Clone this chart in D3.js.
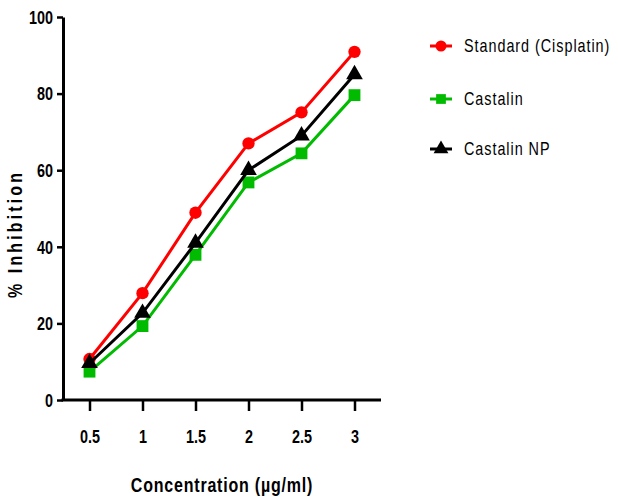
<!DOCTYPE html>
<html>
<head>
<meta charset="utf-8">
<script src="https://cdn.jsdelivr.net/npm/d3@7"></script>
<style>
  body { margin: 0; background: #fff; }
  text { font-family: "Liberation Sans", Arial, sans-serif; }
</style>
</head>
<body>
<div id="chart"></div>
<script>
let w = 618
let h = 500
let narrow = 0.8

let concentrations = [0.5, 1, 1.5, 2, 2.5, 3]
let standard = [10.7, 27.9, 48.9, 67.0, 75.1, 90.9]
let castalin = [7.4, 19.3, 37.9, 56.8, 64.4, 79.6]
let castalinNP = [9.6, 22.7, 41.0, 60.0, 69.0, 85.0]
let yTicks = [0, 20, 40, 60, 80, 100]
let xTicks = [0.5, 1, 1.5, 2, 2.5, 3]

let seriesNames = ["Standard (Cisplatin)", "Castalin", "Castalin NP"]
let seriesValues = [standard, castalin, castalinNP]
let COLORS = ["#ff0000", "#00bb00", "#000000"]
let SHAPES = [d3.symbolCircle, d3.symbolSquare, d3.symbolTriangle]
let SIZES = [120, 140, 120]

let svg = d3.select("#chart")
  .append("svg")
  .attr("width", w)
  .attr("height", h)

let x = d3.scaleLinear()
  .domain([0.25, 3.25])
  .range([63, 381])

let y = d3.scaleLinear()
  .domain([0, 100])
  .range([400, 17])

// Axes
let xAxis = d3.axisBottom(x).tickValues(xTicks).tickFormat(d3.format("")).tickSize(11).tickSizeOuter(0)
let yAxis = d3.axisLeft(y).tickValues(yTicks).tickSize(6).tickSizeOuter(0)

let gx = svg.append("g")
  .attr("transform", "translate(0," + y(0) + ")")
  .call(xAxis)

let gy = svg.append("g")
  .attr("transform", "translate(" + x(0.25) + ",0)")
  .call(yAxis)

gx.select(".domain").attr("stroke-width", 3).attr("d", "M" + (x(0.25) - 1.5) + ",0H" + x(3.25))
gy.select(".domain").attr("stroke-width", 3)
svg.selectAll(".tick line").attr("stroke-width", 2.5)

gx.selectAll(".tick text")
  .attr("dy", "0")
  .attr("y", null)
  .attr("transform", "translate(0,43) scale(" + narrow + ",1)")
  .attr("font-size", 18)
  .attr("font-weight", "bold")
  .attr("fill", "#000")

gy.selectAll(".tick text")
  .attr("x", null)
  .attr("transform", "translate(-10,0) scale(" + narrow + ",1)")
  .attr("dy", "0.35em")
  .attr("font-size", 18)
  .attr("font-weight", "bold")
  .attr("fill", "#000")

// Axis titles
svg.append("text")
  .attr("transform", "translate(222,492) scale(" + narrow + ",1)")
  .attr("text-anchor", "middle")
  .attr("font-size", 20)
  .attr("font-weight", "bold")
  .attr("letter-spacing", 1)
  .text("Concentration (µg/ml)")

svg.append("text")
  .attr("transform", "translate(22,234) rotate(-90) scale(" + narrow + ",1)")
  .attr("text-anchor", "middle")
  .attr("font-size", 20)
  .attr("font-weight", "bold")
  .attr("letter-spacing", 3.9)
  .text("% Inhibition")

// Lines and markers
let line = d3.line()
  .x((d, i) => x(concentrations[i]))
  .y(d => y(d))

seriesValues.forEach((vals, s) => {
  svg.append("path")
    .datum(vals)
    .attr("fill", "none")
    .attr("stroke", COLORS[s])
    .attr("stroke-width", 3)
    .attr("d", line)

  svg.selectAll(".pt" + s)
    .data(vals)
    .enter()
    .append("path")
    .attr("class", "pt" + s)
    .attr("transform", (d, i) => "translate(" + x(concentrations[i]) + "," + y(d) + ")")
    .attr("d", d3.symbol().type(SHAPES[s]).size(SIZES[s]))
    .attr("fill", COLORS[s])
})

// Legend
let legendY = [46, 99, 149]
let legend = svg.selectAll(".legend")
  .data(seriesNames)
  .enter()
  .append("g")
  .attr("class", "legend")
  .attr("transform", (d, i) => "translate(430," + legendY[i] + ")")

legend.append("line")
  .attr("x1", 0)
  .attr("x2", 22)
  .attr("stroke", (d, i) => COLORS[i])
  .attr("stroke-width", 3)

legend.append("path")
  .attr("transform", "translate(11,0)")
  .attr("d", (d, i) => d3.symbol().type(SHAPES[i]).size(95)())
  .attr("fill", (d, i) => COLORS[i])

legend.append("text")
  .attr("transform", "translate(34,0) scale(" + narrow + ",1)")
  .attr("dy", "0.35em")
  .attr("font-size", 18)
  .attr("letter-spacing", 1.2)
  .text(d => d)
</script>
</body>
</html>
